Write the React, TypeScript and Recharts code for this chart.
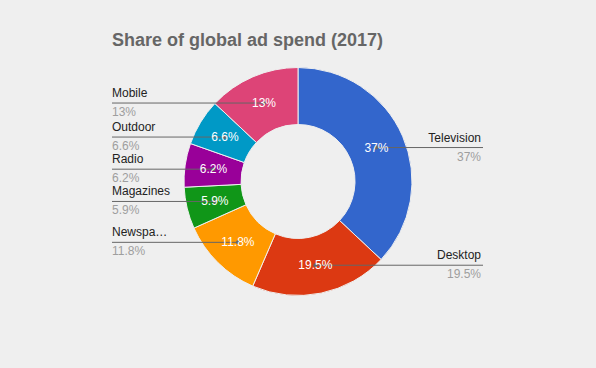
import { PieChart, Pie, Cell } from 'recharts';

if (typeof document !== 'undefined') document.body.style.margin = '0';

const categories = ['Television', 'Desktop', 'Newspa…', 'Magazines', 'Radio', 'Outdoor', 'Mobile'];
const shares = [37, 19.5, 11.8, 5.9, 6.2, 6.6, 13];
const shareLabels = ['37%', '19.5%', '11.8%', '5.9%', '6.2%', '6.6%', '13%'];
const colors = ['#3366cc', '#dc3912', '#ff9900', '#109618', '#990099', '#0099c6', '#dd4477'];

const data = categories.map((name, i) => ({ name, value: shares[i], label: shareLabels[i] }));

const RADIAN = Math.PI / 180;
const FONT = 'Arial, "Liberation Sans", sans-serif';

function SliceLabel(props: any) {
    const { cx, cy, midAngle, innerRadius, outerRadius, index } = props;
    const r = (innerRadius + outerRadius) / 2;
    const x = cx + r * Math.cos(-midAngle * RADIAN);
    const y = cy + r * Math.sin(-midAngle * RADIAN);
    const left = x < cx;
    const colX = left ? cx - 186 : cx + 185;
    const elbowX = left ? colX + 60 : colX - 60;
    const pts = `${colX},${y} ${elbowX},${y} ${x},${y}`;
    return (
        <g>
            <polyline points={pts} fill="none" stroke="#666" strokeWidth={1} />
            <circle cx={x} cy={y} r={2} fill="#666" />
            <text
                x={x}
                y={y}
                fill="#fff"
                textAnchor="middle"
                dominantBaseline="central"
                fontSize={12}
                fontFamily={FONT}
            >
                {data[index].label}
            </text>
            <text
                x={left ? colX : colX - 2}
                y={y - 6}
                fill="#222"
                textAnchor={left ? 'start' : 'end'}
                fontSize={12}
                fontFamily={FONT}
            >
                {data[index].name}
            </text>
            <text
                x={left ? colX : colX - 2}
                y={y + 13}
                fill="#9e9e9e"
                textAnchor={left ? 'start' : 'end'}
                fontSize={12}
                fontFamily={FONT}
            >
                {data[index].label}
            </text>
        </g>
    );
}

export default function App() {
    return (
        <div style={{ position: 'relative', width: 596, height: 368, background: '#efefef' }}>
            <div
                style={{
                    position: 'absolute',
                    left: 112,
                    top: 31,
                    fontFamily: FONT,
                    fontSize: 18,
                    lineHeight: '18px',
                    fontWeight: 'bold',
                    color: '#666',
                    whiteSpace: 'nowrap',
                }}
            >
                Share of global ad spend (2017)
            </div>
            <PieChart
                width={596}
                height={368}
                margin={{ top: 0, right: 0, bottom: 0, left: 0 }}
                style={{ position: 'absolute', left: 0, top: 0 }}
            >
                <Pie
                    data={data}
                    dataKey="value"
                    nameKey="name"
                    cx={298}
                    cy={181.5}
                    innerRadius={57}
                    outerRadius={114}
                    startAngle={90}
                    endAngle={-270}
                    stroke="#efefef"
                    strokeWidth={1}
                    label={SliceLabel}
                    labelLine={false}
                    isAnimationActive={false}
                >
                    {data.map((d, i) => (
                        <Cell key={d.name} fill={colors[i]} />
                    ))}
                </Pie>
            </PieChart>
        </div>
    );
}
